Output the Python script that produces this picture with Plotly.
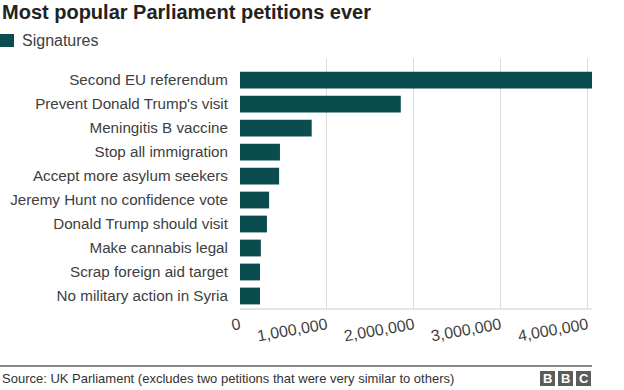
import plotly.graph_objects as go

categories = [
    "Second EU referendum",
    "Prevent Donald Trump's visit",
    "Meningitis B vaccine",
    "Stop all immigration",
    "Accept more asylum seekers",
    "Jeremy Hunt no confidence vote",
    "Donald Trump should visit",
    "Make cannabis legal",
    "Scrap foreign aid target",
    "No military action in Syria",
]
signatures = [4050000, 1850000, 825000, 460000, 450000, 335000, 310000, 240000, 230000, 230000]
tick_values = [0, 1000000, 2000000, 3000000, 4000000]
tick_labels = ["0", "1,000,000", "2,000,000", "3,000,000", "4,000,000"]

W, H = 624, 390
L, R, T, B = 240, 592, 58, 308

def px(x):
    return (x - L) / (R - L)

def py(y):
    return (B - y) / (B - T)

BAR = "#0b4d4f"
TXT = "#404040"
FONT = "Liberation Sans, Arial, sans-serif"

fig = go.Figure(go.Bar(
    x=signatures, y=categories, orientation="h",
    marker=dict(color=BAR, line=dict(width=0)),
    width=0.7, showlegend=False,
))

fig.update_layout(
    width=W, height=H,
    margin=dict(l=L, r=W - R, t=T, b=H - B, pad=0, autoexpand=False),
    paper_bgcolor="white", plot_bgcolor="white",
    font=dict(family=FONT, size=15, color=TXT),
    bargap=0.3,
    xaxis=dict(
        range=[0, 4050000], tickvals=tick_values, ticktext=tick_labels,
        tickangle=-10, showgrid=True, gridcolor="#dcdcdc", gridwidth=1,
        zeroline=False, showline=True, linecolor="#e4e4e4", linewidth=2,
        ticks="", tickfont=dict(size=16, color=TXT), fixedrange=True,
        automargin=False,
    ),
    yaxis=dict(
        categoryorder="array", categoryarray=categories,
        range=[9.5, -0.92], showgrid=False, zeroline=False, showline=False,
        ticks="outside", ticklen=8, tickcolor="rgba(0,0,0,0)",
        tickfont=dict(size=15.2, color=TXT), fixedrange=True,
        automargin=False,
    ),
    shapes=[
        dict(type="rect", xref="paper", yref="paper",
             x0=px(0), x1=px(14), y0=py(47), y1=py(34),
             fillcolor=BAR, line=dict(width=0)),
        dict(type="line", xref="paper", yref="paper",
             x0=px(0), x1=px(592), y0=py(366), y1=py(366),
             line=dict(color="#111111", width=1)),
    ] + [
        dict(type="rect", xref="paper", yref="paper",
             x0=px(x0), x1=px(x0 + 15), y0=py(386), y1=py(371),
             fillcolor="#5c5c5c", line=dict(width=0))
        for x0 in (540, 558, 576)
    ],
    annotations=[
        dict(text="<b>Most popular Parliament petitions ever</b>",
             xref="paper", yref="paper", x=px(0), y=py(12),
             xanchor="left", yanchor="middle", showarrow=False,
             font=dict(size=20, color="#222222")),
        dict(text="Signatures", xref="paper", yref="paper",
             x=px(20), y=py(41), xanchor="left", yanchor="middle",
             showarrow=False, font=dict(size=16, color=TXT)),
        dict(text="Source: UK Parliament (excludes two petitions that were very similar to others)",
             xref="paper", yref="paper", x=px(0), y=py(378),
             xanchor="left", yanchor="middle", showarrow=False,
             font=dict(size=13, color="#333333")),
    ] + [
        dict(text="<b>%s</b>" % ch, xref="paper", yref="paper",
             x=px(x0 + 7.5), y=py(378.5), xanchor="center", yanchor="middle",
             showarrow=False, font=dict(size=13, color="white"))
        for ch, x0 in (("B", 540), ("B", 558), ("C", 576))
    ],
)

fig.write_html("out.html", config=dict(displayModeBar=False),
               post_script="document.body.style.margin='0';document.body.style.overflow='hidden';")
